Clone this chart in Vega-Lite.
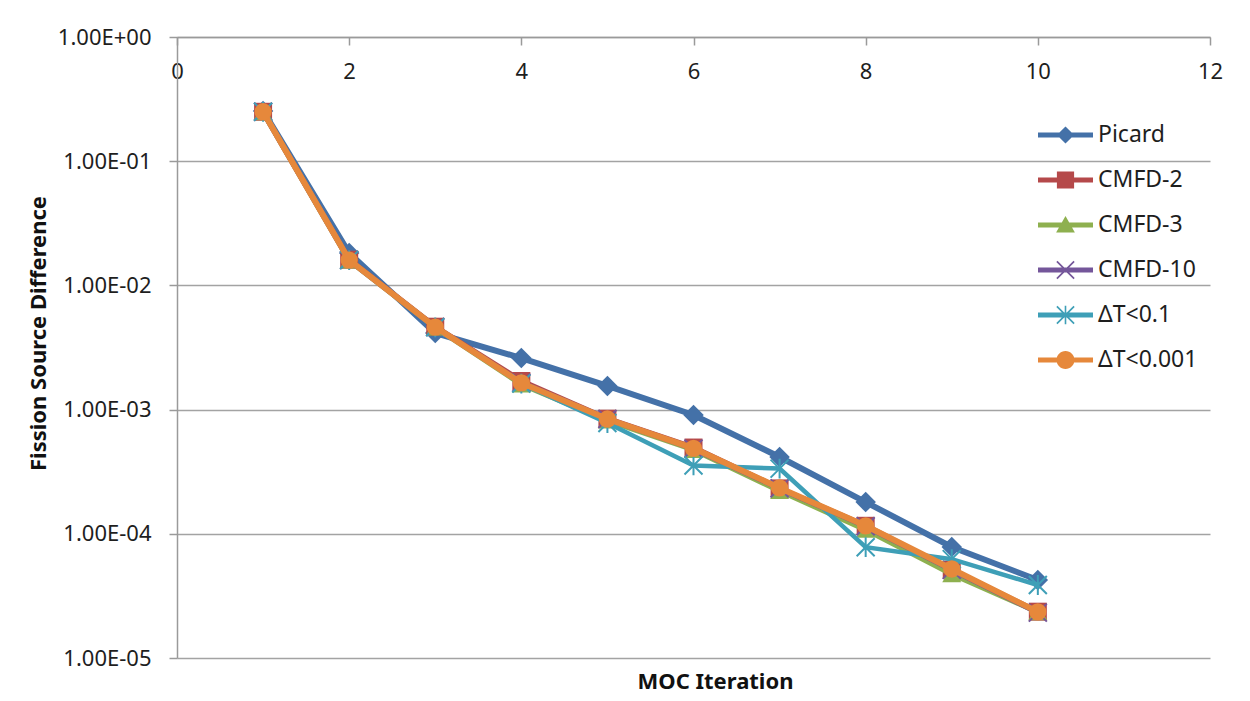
{
  "$schema": "https://vega.github.io/schema/vega-lite/v6.json",
  "autosize": "none",
  "width": 1033,
  "height": 621,
  "padding": {"left": 177, "top": 37, "right": 40, "bottom": 43},
  "background": "white",
  "config": {
    "view": {"stroke": null},
    "font": "Noto Sans"
  },
  "data": {
    "values": [
      {"iter": 1, "series": "Picard", "diff": 0.254},
      {"iter": 2, "series": "Picard", "diff": 0.0182},
      {"iter": 3, "series": "Picard", "diff": 0.00414},
      {"iter": 4, "series": "Picard", "diff": 0.0026},
      {"iter": 5, "series": "Picard", "diff": 0.00155},
      {"iter": 6, "series": "Picard", "diff": 0.000905},
      {"iter": 7, "series": "Picard", "diff": 0.000415},
      {"iter": 8, "series": "Picard", "diff": 0.00018},
      {"iter": 9, "series": "Picard", "diff": 0.0000783},
      {"iter": 10, "series": "Picard", "diff": 0.0000425},
      {"iter": 1, "series": "CMFD-2", "diff": 0.25},
      {"iter": 2, "series": "CMFD-2", "diff": 0.0161},
      {"iter": 3, "series": "CMFD-2", "diff": 0.00465},
      {"iter": 4, "series": "CMFD-2", "diff": 0.0017},
      {"iter": 5, "series": "CMFD-2", "diff": 0.000845},
      {"iter": 6, "series": "CMFD-2", "diff": 0.000495},
      {"iter": 7, "series": "CMFD-2", "diff": 0.000232},
      {"iter": 8, "series": "CMFD-2", "diff": 0.000116},
      {"iter": 9, "series": "CMFD-2", "diff": 0.0000515},
      {"iter": 10, "series": "CMFD-2", "diff": 0.0000236},
      {"iter": 1, "series": "CMFD-3", "diff": 0.249},
      {"iter": 2, "series": "CMFD-3", "diff": 0.0159},
      {"iter": 3, "series": "CMFD-3", "diff": 0.0046},
      {"iter": 4, "series": "CMFD-3", "diff": 0.0016},
      {"iter": 5, "series": "CMFD-3", "diff": 0.00082},
      {"iter": 6, "series": "CMFD-3", "diff": 0.000475},
      {"iter": 7, "series": "CMFD-3", "diff": 0.000222},
      {"iter": 8, "series": "CMFD-3", "diff": 0.000108},
      {"iter": 9, "series": "CMFD-3", "diff": 0.0000475},
      {"iter": 10, "series": "CMFD-3", "diff": 0.0000235},
      {"iter": 1, "series": "CMFD-10", "diff": 0.25},
      {"iter": 2, "series": "CMFD-10", "diff": 0.016},
      {"iter": 3, "series": "CMFD-10", "diff": 0.00462},
      {"iter": 4, "series": "CMFD-10", "diff": 0.00165},
      {"iter": 5, "series": "CMFD-10", "diff": 0.00084},
      {"iter": 6, "series": "CMFD-10", "diff": 0.000485},
      {"iter": 7, "series": "CMFD-10", "diff": 0.000232},
      {"iter": 8, "series": "CMFD-10", "diff": 0.000115},
      {"iter": 9, "series": "CMFD-10", "diff": 0.0000512},
      {"iter": 10, "series": "CMFD-10", "diff": 0.0000232},
      {"iter": 1, "series": "ΔT<0.1", "diff": 0.25},
      {"iter": 2, "series": "ΔT<0.1", "diff": 0.016},
      {"iter": 3, "series": "ΔT<0.1", "diff": 0.0046},
      {"iter": 4, "series": "ΔT<0.1", "diff": 0.00162},
      {"iter": 5, "series": "ΔT<0.1", "diff": 0.00078},
      {"iter": 6, "series": "ΔT<0.1", "diff": 0.000355},
      {"iter": 7, "series": "ΔT<0.1", "diff": 0.000335},
      {"iter": 8, "series": "ΔT<0.1", "diff": 0.000078},
      {"iter": 9, "series": "ΔT<0.1", "diff": 0.0000625},
      {"iter": 10, "series": "ΔT<0.1", "diff": 0.0000387},
      {"iter": 1, "series": "ΔT<0.001", "diff": 0.25},
      {"iter": 2, "series": "ΔT<0.001", "diff": 0.016},
      {"iter": 3, "series": "ΔT<0.001", "diff": 0.00462},
      {"iter": 4, "series": "ΔT<0.001", "diff": 0.00164},
      {"iter": 5, "series": "ΔT<0.001", "diff": 0.00084},
      {"iter": 6, "series": "ΔT<0.001", "diff": 0.000488},
      {"iter": 7, "series": "ΔT<0.001", "diff": 0.000234},
      {"iter": 8, "series": "ΔT<0.001", "diff": 0.000116},
      {"iter": 9, "series": "ΔT<0.001", "diff": 0.0000521},
      {"iter": 10, "series": "ΔT<0.001", "diff": 0.0000235}
    ]
  },
  "encoding": {
    "x": {
      "field": "iter",
      "type": "quantitative",
      "scale": {"domain": [0, 12], "nice": false, "zero": false},
      "axis": {
        "orient": "top",
        "values": [0, 2, 4, 6, 8, 10, 12],
        "grid": false,
        "domainColor": "#9A9A9A",
        "domainWidth": 1.5,
        "tickColor": "#9A9A9A",
        "tickWidth": 1.5,
        "tickSize": -8,
        "labelPadding": -33,
        "labelBaseline": "alphabetic",
        "labelFontSize": 22,
        "labelColor": "#1E1E1E",
        "labelFlush": false,
        "title": "MOC Iteration",
        "titleFontSize": 22,
        "titleFontWeight": "bold",
        "titleColor": "#111111",
        "titleX": 538,
        "titleY": 644,
        "titleAlign": "center",
        "titleBaseline": "middle"
      }
    },
    "y": {
      "field": "diff",
      "type": "quantitative",
      "scale": {"type": "log", "domain": [0.00001, 1], "nice": false},
      "axis": {
        "values": [1, 0.1, 0.01, 0.001, 0.0001, 0.00001],
        "labelExpr": "datum.value >= 1 ? '1.00E+00' : '1.00E-0' + format(-log(datum.value) / LN10, '.0f')",
        "grid": true,
        "gridColor": "#A3A3A3",
        "gridWidth": 1.5,
        "domainColor": "#9A9A9A",
        "domainWidth": 1.5,
        "tickColor": "#9A9A9A",
        "tickWidth": 1.5,
        "tickSize": 8,
        "labelPadding": 18,
        "labelFontSize": 22,
        "labelColor": "#1E1E1E",
        "labelFlush": false,
        "title": "Fission Source Difference",
        "titleFontSize": 22,
        "titleFontWeight": "bold",
        "titleColor": "#111111",
        "titleAngle": -90,
        "titleX": -139,
        "titleY": 296,
        "titleAlign": "center",
        "titleBaseline": "middle"
      }
    }
  },
  "layer": [
    {
      "mark": {"type": "point", "filled": true, "opacity": 0, "size": 1600},
      "encoding": {
        "color": {
          "field": "series",
          "type": "nominal",
          "scale": {
            "domain": ["Picard", "CMFD-2", "CMFD-3", "CMFD-10", "ΔT<0.1", "ΔT<0.001"],
            "range": ["#4471A8", "#B5494A", "#8EB04F", "#74569A", "#3E9FB7", "#E6883B"]
          },
          "legend": {
            "orient": "none",
            "legendX": 868.5,
            "legendY": 78,
            "padding": 0,
            "title": null,
            "labelFontSize": 23,
            "labelColor": "#1E1E1E",
            "labelOffset": 12.5,
            "rowPadding": 13,
            "symbolSize": 1600,
            "symbolOpacity": 1,
            "symbolStrokeWidth": 0
          }
        },
        "shape": {
          "field": "series",
          "type": "nominal",
          "scale": {
            "domain": ["Picard", "CMFD-2", "CMFD-3", "CMFD-10", "ΔT<0.1", "ΔT<0.001"],
            "range": [
              "M -1.375 -0.13 L 1.375 -0.13 L 1.375 0.13 L -1.375 0.13 Z M 0 -0.43 L 0.43 0 L 0 0.43 L -0.43 0 Z",
              "M -1.375 -0.13 L 1.375 -0.13 L 1.375 0.13 L -1.375 0.13 Z M -0.43 -0.43 L 0.43 -0.43 L 0.43 0.43 L -0.43 0.43 Z",
              "M -1.375 -0.13 L 1.375 -0.13 L 1.375 0.13 L -1.375 0.13 Z M 0 -0.45 L 0.47 0.38 L -0.47 0.38 Z",
              "M -1.375 -0.13 L 1.375 -0.13 L 1.375 0.13 L -1.375 0.13 Z M -0.4 -0.46 L 0.46 0.4 L 0.4 0.46 L -0.46 -0.4 Z M 0.46 -0.4 L -0.4 0.46 L -0.46 0.4 L 0.4 -0.46 Z",
              "M -1.375 -0.13 L 1.375 -0.13 L 1.375 0.13 L -1.375 0.13 Z M -0.4 -0.46 L 0.46 0.4 L 0.4 0.46 L -0.46 -0.4 Z M 0.46 -0.4 L -0.4 0.46 L -0.46 0.4 L 0.4 -0.46 Z M -0.04 -0.46 L 0.04 -0.46 L 0.04 0.46 L -0.04 0.46 Z",
              "M -1.375 -0.13 L 1.375 -0.13 L 1.375 0.13 L -1.375 0.13 Z M -0.45 0 A 0.45 0.45 0 1 1 0.45 0 A 0.45 0.45 0 1 1 -0.45 0 Z"
            ]
          },
          "legend": null
        }
      }
    },
    {
      "transform": [{"filter": {"field": "series", "equal": "Picard"}}],
      "mark": {"type": "line", "color": "#4471A8", "strokeWidth": 6}
    },
    {
      "transform": [{"filter": {"field": "series", "equal": "Picard"}}],
      "mark": {"type": "point", "shape": "diamond", "filled": true, "opacity": 1, "color": "#4471A8", "size": 420}
    },
    {
      "transform": [{"filter": {"field": "series", "equal": "CMFD-2"}}],
      "mark": {"type": "line", "color": "#B5494A", "strokeWidth": 5.5}
    },
    {
      "transform": [{"filter": {"field": "series", "equal": "CMFD-2"}}],
      "mark": {"type": "point", "shape": "square", "filled": true, "opacity": 1, "color": "#B5494A", "size": 324}
    },
    {
      "transform": [{"filter": {"field": "series", "equal": "CMFD-3"}}],
      "mark": {"type": "line", "color": "#8EB04F", "strokeWidth": 5.5}
    },
    {
      "transform": [{"filter": {"field": "series", "equal": "CMFD-3"}}],
      "mark": {"type": "point", "shape": "triangle-up", "filled": true, "opacity": 1, "color": "#8EB04F", "size": 360}
    },
    {
      "transform": [{"filter": {"field": "series", "equal": "CMFD-10"}}],
      "mark": {"type": "line", "color": "#74569A", "strokeWidth": 5.5}
    },
    {
      "transform": [{"filter": {"field": "series", "equal": "CMFD-10"}}],
      "mark": {"type": "point", "shape": "M -1 -1 L 1 1 M 1 -1 L -1 1", "filled": false, "opacity": 1, "color": "#74569A", "strokeWidth": 2, "size": 324}
    },
    {
      "transform": [{"filter": {"field": "series", "equal": "ΔT<0.1"}}],
      "mark": {"type": "line", "color": "#3E9FB7", "strokeWidth": 4.5}
    },
    {
      "transform": [{"filter": {"field": "series", "equal": "ΔT<0.1"}}],
      "mark": {"type": "point", "shape": "M -1 -1 L 1 1 M 1 -1 L -1 1 M 0 -1.1 L 0 1.1", "filled": false, "opacity": 1, "color": "#3E9FB7", "strokeWidth": 2, "size": 324}
    },
    {
      "transform": [{"filter": {"field": "series", "equal": "ΔT<0.001"}}],
      "mark": {"type": "line", "color": "#E6883B", "strokeWidth": 6}
    },
    {
      "transform": [{"filter": {"field": "series", "equal": "ΔT<0.001"}}],
      "mark": {"type": "point", "shape": "circle", "filled": true, "opacity": 1, "color": "#E6883B", "size": 300}
    }
  ]
}
